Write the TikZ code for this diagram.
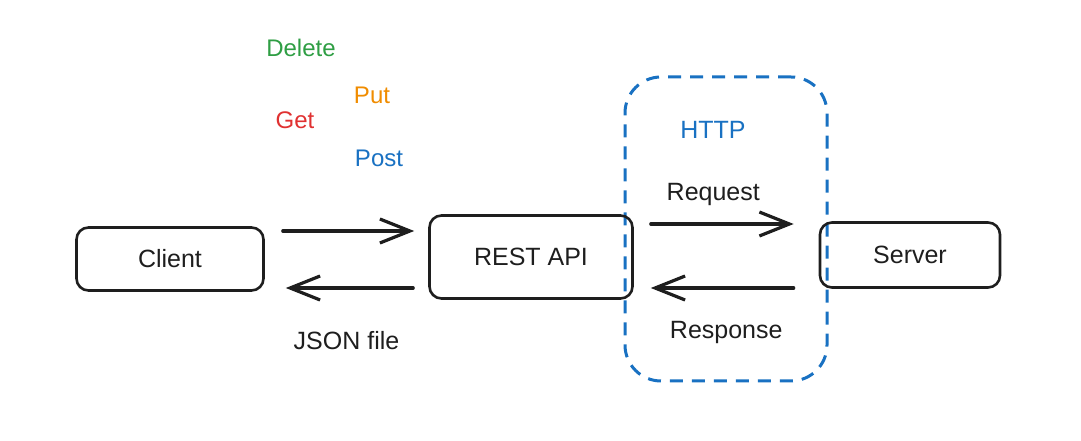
\documentclass[tikz,border=0pt]{standalone}
\usepackage{fontspec}
\setmainfont{Liberation Sans}
\usetikzlibrary{positioning, arrows.meta}

\definecolor{ink}{HTML}{1E1E1E}
\definecolor{xgreen}{HTML}{2F9E44}
\definecolor{xorange}{HTML}{F08C00}
\definecolor{xred}{HTML}{E03131}
\definecolor{xblue}{HTML}{1971C2}

\begin{document}
\begin{tikzpicture}[
    x=1pt, y=1pt,
    on grid,
    font=\fontsize{25}{29}\selectfont,
    every node/.style={text=ink},
    box/.style={draw=ink, line width=2.6pt, rounded corners=12pt},
    httpbox/.style={draw=xblue, line width=3pt, rounded corners=36pt, dash pattern=on 13pt off 9pt,
        minimum width=202pt, minimum height=304pt},
    flow/.style={draw=ink, line width=3.2pt, line cap=round, -{Straight Barb[length=30pt, width=24pt]}},
    verb/.style={font=\fontsize{24}{28}\selectfont}
]
   \useasboundingbox (0,0) rectangle (1081,441);

   % Nodes
   \node[httpbox] (http) at (726,212) {};
   \node[box, minimum width=187pt, minimum height=63pt] (client) at (170,182) {Client};
   \node[box, minimum width=203pt, minimum height=83pt] (rest) [right=361pt of client, yshift=2pt] {REST API};
   \node[box, minimum width=180pt, minimum height=65pt] (server) [right=379pt of rest, yshift=2pt] {Server};
   \node[text=xblue] (httplabel) [below=42pt of http.north, xshift=-13pt] {HTTP};

   % Methods
   \node[verb, text=xgreen] (delete) at (301,393) {Delete};
   \node[verb, text=xorange] (put) at (372,346) {Put};
   \node[verb, text=xred] (get) at (295,321) {Get};
   \node[verb, text=xblue] (post) at (379,283) {Post};

   % Arrows
   \path
   ([yshift=28pt]client.east) edge[flow, shorten <=18pt, shorten >=14pt] ([yshift=26pt]rest.west)
   ([yshift=-31pt]rest.west) edge[flow, shorten <=15pt, shorten >=21pt]
        node[midway, yshift=-53pt] (json) {JSON file} ([yshift=-29pt]client.east)
   ([yshift=33pt]rest.east) edge[flow, shorten <=17pt, shorten >=25pt]
        node[midway, yshift=30pt, xshift=-13pt] (req) {Request} ([yshift=31pt]server.west)
   ([yshift=-33pt]server.west) edge[flow, shorten <=25pt, shorten >=17pt]
        node[midway, yshift=-44pt] (resp) {Response} ([yshift=-31pt]rest.east);

\end{tikzpicture}
\end{document}
